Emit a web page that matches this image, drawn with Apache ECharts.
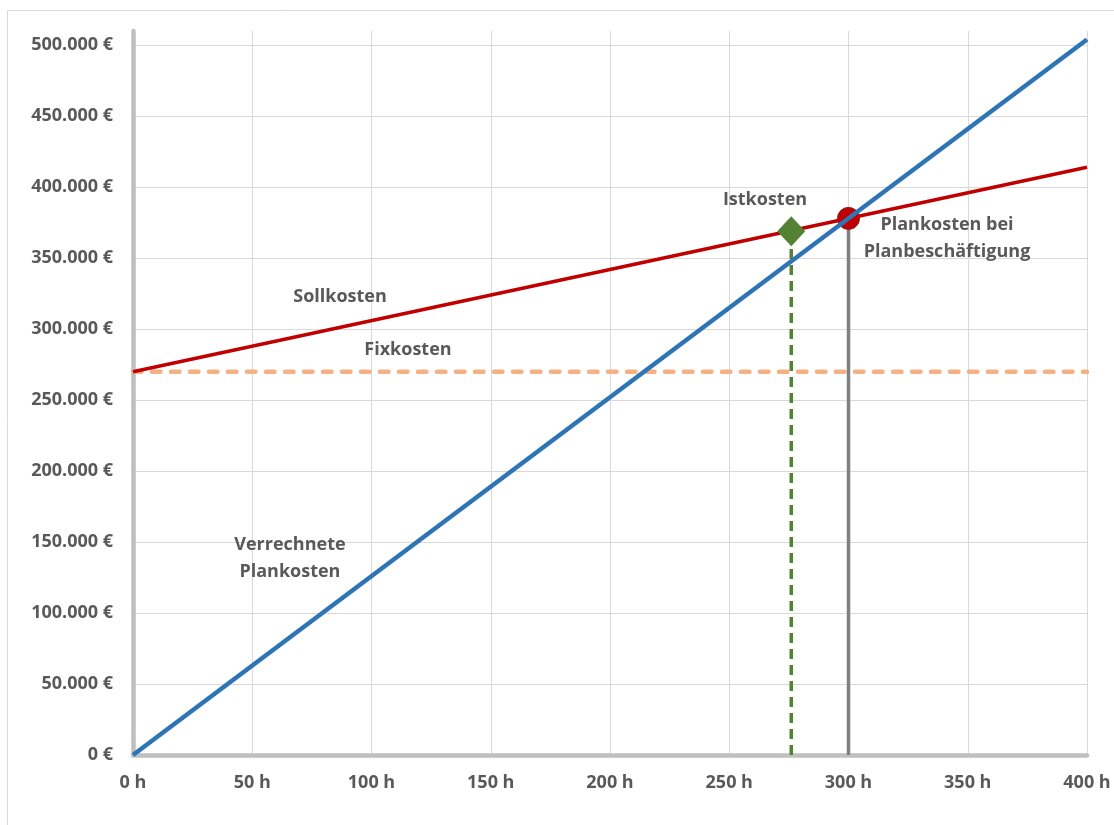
<!DOCTYPE html>
<html>
<head>
<meta charset="utf-8">
<script src="https://cdn.jsdelivr.net/npm/echarts@6/dist/echarts.min.js"></script>
<style>
  html, body { margin: 0; padding: 0; background: #ffffff; }
  #chart { width: 1114px; height: 825px; }
</style>
</head>
<body>
<div id="chart"></div>
<script>
// Hours (x) and costs in € (y)
const hoursRange = [0, 400];
const fixkosten = 270000;            // fixed costs
const sollkostenEnd = 414000;        // target costs at 400 h
const verrechneteEnd = 504000;       // charged planned costs at 400 h
const planBeschaeftigung = [300, 378000]; // planned costs at planned activity
const istkosten = [276, 369000];          // actual costs

const xTicks = [0, 50, 100, 150, 200, 250, 300, 350, 400];
const yTicks = [0, 50000, 100000, 150000, 200000, 250000, 300000, 350000, 400000, 450000, 500000];

const annotations = [
  { name: 'Istkosten', value: [265, 390800] },
  { name: 'Plankosten bei\nPlanbeschäftigung', value: [341.3, 364100] },
  { name: 'Sollkosten', value: [86.8, 322500] },
  { name: 'Fixkosten', value: [115.3, 285200] },
  { name: 'Verrechnete\nPlankosten', value: [65.8, 138400] }
];

const FONT = '"Open Sans", "DejaVu Sans", sans-serif';
const TEXT = '#595959';

function euro(v) {
  return String(v).replace(/\B(?=(\d{3})+(?!\d))/g, '.') + ' €';
}

const chart = echarts.init(document.getElementById('chart'), null, { renderer: 'canvas' });

chart.setOption({
  animation: false,
  backgroundColor: '#ffffff',
  graphic: [{
    type: 'rect',
    shape: { x: 7.5, y: 10.5, width: 1300, height: 1000 },
    style: { fill: 'none', stroke: '#d9d9d9', lineWidth: 1 },
    silent: true,
    z: -10
  }],
  grid: { left: 133, right: 27, top: 31, bottom: 70, containLabel: false },
  xAxis: {
    type: 'value',
    min: hoursRange[0],
    max: hoursRange[1],
    interval: xTicks[1] - xTicks[0],
    axisLine: { show: true, onZero: false, lineStyle: { color: '#bfbfbf', width: 4.5 } },
    axisTick: { show: false },
    axisLabel: {
      margin: 19,
      color: TEXT,
      fontFamily: FONT,
      fontWeight: 'bold',
      fontSize: 18,
      formatter: v => v + ' h'
    },
    splitLine: { show: true, lineStyle: { color: '#d9d9d9', width: 1 } }
  },
  yAxis: {
    type: 'value',
    min: yTicks[0],
    max: 510000,
    interval: yTicks[1] - yTicks[0],
    axisLine: { show: true, onZero: false, lineStyle: { color: '#bfbfbf', width: 4.5 } },
    axisTick: { show: false },
    axisLabel: {
      margin: 20,
      color: TEXT,
      fontFamily: FONT,
      fontWeight: 'bold',
      fontSize: 18,
      showMaxLabel: false,
      formatter: v => (yTicks.indexOf(v) >= 0 ? euro(v) : '')
    },
    splitLine: { show: true, showMaxLine: false, lineStyle: { color: '#d9d9d9', width: 1 } }
  },
  series: [
    {
      name: 'Fixkosten',
      type: 'line',
      data: [[hoursRange[0], fixkosten], [hoursRange[1], fixkosten]],
      symbol: 'none',
      lineStyle: { color: '#f4b183', width: 4.5, type: [8.5, 10.5], cap: 'round' },
      z: 2
    },
    {
      name: 'Istkosten Linie',
      type: 'line',
      data: [[istkosten[0], 0], istkosten],
      symbol: 'none',
      lineStyle: { color: '#548235', width: 3.5, type: [10, 6] },
      z: 3
    },
    {
      name: 'Planbeschäftigung Linie',
      type: 'line',
      data: [[planBeschaeftigung[0], 0], planBeschaeftigung],
      symbol: 'none',
      lineStyle: { color: '#808080', width: 3.5 },
      z: 3
    },
    {
      name: 'Plankosten bei Planbeschäftigung',
      type: 'scatter',
      data: [planBeschaeftigung],
      symbol: 'circle',
      symbolSize: 22,
      itemStyle: { color: '#c00000', borderColor: '#7f1f1f', borderWidth: 1, opacity: 1 },
      z: 4
    },
    {
      name: 'Sollkosten',
      type: 'line',
      data: [[hoursRange[0], fixkosten], [hoursRange[1], sollkostenEnd]],
      symbol: 'none',
      lineStyle: { color: '#c00000', width: 3.5 },
      z: 5
    },
    {
      name: 'Verrechnete Plankosten',
      type: 'line',
      data: [[hoursRange[0], 0], [hoursRange[1], verrechneteEnd]],
      symbol: 'none',
      lineStyle: { color: '#2e75b6', width: 4.5 },
      clip: false,
      z: 6
    },
    {
      name: 'Istkosten',
      type: 'scatter',
      data: [istkosten],
      symbol: 'diamond',
      symbolSize: [28, 30],
      itemStyle: { color: '#548235', opacity: 1 },
      z: 7
    },
    {
      name: 'Beschriftung',
      type: 'scatter',
      data: annotations,
      symbolSize: 0,
      silent: true,
      itemStyle: { opacity: 1 },
      label: {
        show: true,
        position: 'inside',
        formatter: p => p.name,
        color: TEXT,
        fontFamily: FONT,
        fontWeight: 'bold',
        fontSize: 18,
        lineHeight: 27,
        align: 'center',
        verticalAlign: 'middle'
      },
      z: 8
    }
  ]
});
</script>
</body>
</html>
